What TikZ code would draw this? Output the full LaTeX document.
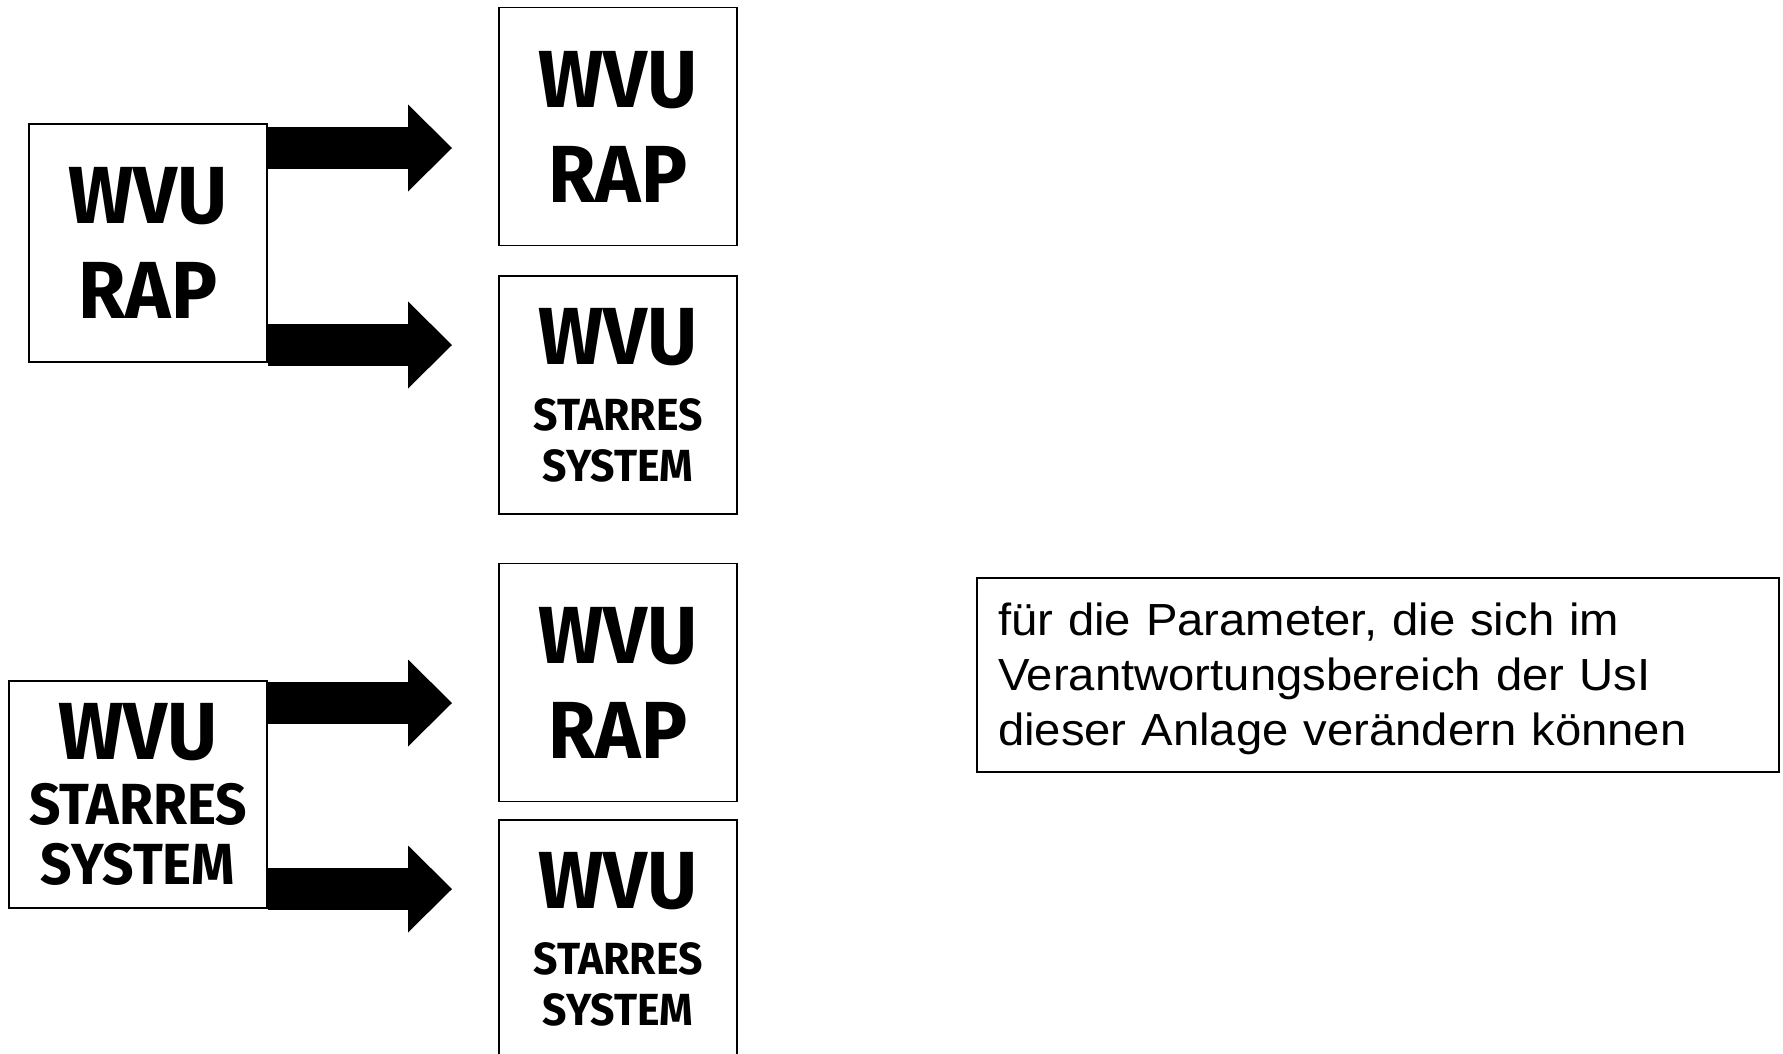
\documentclass[tikz,border=0pt]{standalone}
\usepackage{fontspec}
\usepackage{tikz}
\usetikzlibrary{positioning,arrows.meta}
\newfontfamily\wvufont{Fira Sans}[FakeStretch=0.95]
\newfontfamily\notefont{Liberation Sans}[FakeStretch=1.05]
\newcommand{\bigtxt}{\fontsize{81}{95}\selectfont}
\newcommand{\smalltxt}{\fontsize{45}{51}\selectfont}
\newcommand{\midtxt}{\fontsize{58}{66}\selectfont}

\begin{document}
\begin{tikzpicture}
            [x=1pt, y=-1pt,
            % every box: thin black frame, bold caps
            wvubox/.style={draw=black, line width=1.6pt, minimum width=238pt,
            minimum height=238pt, inner sep=0pt, align=center,
            font=\wvufont\bfseries\bigtxt},
            blockarrow/.style={draw=black, line width=42pt,
            -{Triangle[length=44pt, width=87pt, line width=0pt]}},
            notebox/.style={draw=black, line width=1.6pt, text width=760pt,
            inner xsep=21pt, inner ysep=15pt, minimum height=194pt, align=left,
            font=\notefont\fontsize{45}{55}\selectfont}]
            \useasboundingbox (0,0) rectangle (1783,1053);
            % upper group
            \node [wvubox] (srcrap) at (148,243) {WVU\\RAP};
            \node [wvubox] (rap1) at (618,126.5) {WVU\\RAP};
            \node [wvubox, below=29pt of rap1] (sys1) {WVU\\[-29pt]{\smalltxt STARRES}\\[-44pt]{\smalltxt SYSTEM}};
            \coordinate (tip1) at (452,148);
            \coordinate (tip2) at (452,345);
            \draw [blockarrow] (srcrap.east |- tip1) -- (tip1);
            \draw [blockarrow] (srcrap.east |- tip2) -- (tip2);
            % lower group
            \node [wvubox, minimum width=258pt, minimum height=227pt] (srcsys) at (138,794.5)
                {WVU\\[-30pt]{\midtxt STARRES}\\[-35pt]{\midtxt SYSTEM}};
            \node [wvubox] (rap2) at (618,682.5) {WVU\\RAP};
            \node [wvubox, below=17pt of rap2] (sys2) {WVU\\[-29pt]{\smalltxt STARRES}\\[-44pt]{\smalltxt SYSTEM}};
            \coordinate (tip3) at (452,703);
            \coordinate (tip4) at (452,889);
            \draw [blockarrow] (srcsys.east |- tip3) -- (tip3);
            \draw [blockarrow] (srcsys.east |- tip4) -- (tip4);
            % note
            \node [notebox] (param) at (1378,675) {\rule{0pt}{40pt}f\"ur die Parameter, die sich im\\Verantwortungsbereich der UsI\\dieser Anlage ver\"andern k\"onnen};
            \end{tikzpicture}
\end{document}
